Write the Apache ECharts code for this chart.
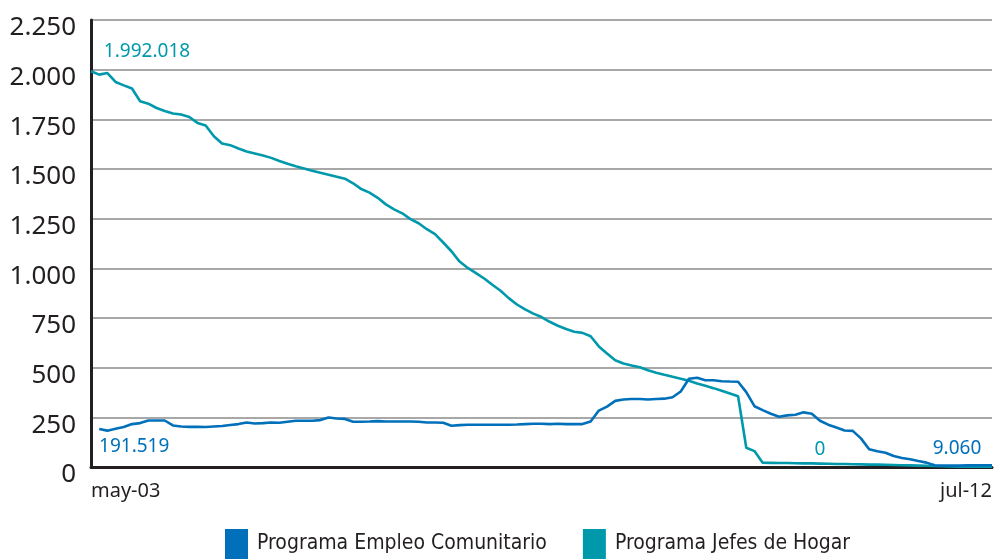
<!DOCTYPE html>
<html>
<head>
<meta charset="utf-8">
<script src="https://cdn.jsdelivr.net/npm/echarts@6/dist/echarts.min.js"></script>
<style>
  html, body { margin: 0; padding: 0; background: #fff; }
  #chart { width: 1000px; height: 560px; }
</style>
</head>
<body>
<div id="chart"></div>
<script>
// meses de may-03 a jul-12
const monthNames = ['ene', 'feb', 'mar', 'abr', 'may', 'jun', 'jul', 'ago', 'sep', 'oct', 'nov', 'dic'];
const months = [];
for (let y = 3, m = 4; y < 12 || (y === 12 && m <= 6); m++) {
  if (m > 11) { m = 0; y++; }
  if (y === 12 && m > 6) break;
  months.push(monthNames[m] + '-' + String(y).padStart(2, '0'));
}

// beneficiarios, en miles
const jefesHogar = [
  1992.018, 1975, 1983, 1938, 1921, 1905, 1841, 1829, 1807, 1792,
  1779, 1774, 1762, 1732, 1719, 1665, 1628, 1620, 1603, 1588,
  1578, 1568, 1556, 1540, 1526, 1514, 1503, 1491, 1481, 1471,
  1461, 1451, 1428, 1399, 1381, 1355, 1322, 1297, 1277, 1248,
  1227, 1197, 1172, 1130, 1086, 1034, 1002, 976, 949, 917,
  887, 850, 818, 793, 772, 755, 731, 711, 695, 681,
  675, 658, 607, 571, 537, 521, 511, 502, 487, 475,
  464, 454, 444, 434, 420, 409, 397, 384, 370, 356,
  97, 80, 22, 21, 20, 20, 19, 18, 18, 17,
  16, 15, 15, 14, 13, 12, 12, 11, 10, 9,
  8, 7, 6, 5, 4, 3, 2, 2, 1, 1, 0
];
const empleoComunitario = [
  null, 191.519, 183, 193, 201, 216, 221, 234, 234, 234,
  209, 204, 202, 202, 201, 204, 206, 211, 216, 224,
  219, 221, 224, 223, 228, 233, 233, 233, 236, 249,
  244, 242, 228, 228, 229, 231, 229, 229, 229, 229,
  228, 224, 224, 223, 208, 211, 213, 213, 213, 213,
  213, 213, 214, 216, 218, 218, 216, 218, 216, 216,
  216, 229, 284, 304, 333, 340, 342, 342, 340, 342,
  344, 351, 380, 444, 449, 437, 437, 432, 430, 429,
  377, 306, 286, 268, 253, 260, 263, 275, 268, 233,
  213, 199, 184, 182, 144, 89, 79, 72, 55, 45,
  39, 30, 22, 9, 7, 7, 7, 8, 8, 9, 9.060
];

const blue = '#0070ba';
const teal = '#0099ac';
const font = "'Noto Sans', sans-serif";

function withDots(n) {
  return String(n).replace(/\B(?=(\d{3})+(?!\d))/g, '.');
}
function fmtMiles(v) {
  return withDots(Math.round(v * 1000));
}

function labelled(arr, color, marks) {
  return arr.map(function (v, i) {
    const mk = marks[i];
    if (!mk) return v;
    return {
      value: v,
      label: {
        show: true,
        position: mk.pos,
        offset: mk.offset,
        color: color,
        fontSize: 19,
        fontFamily: font,
        formatter: function () { return fmtMiles(mk.text); }
      }
    };
  });
}

const last = months.length - 1;
const jefesMarks = {};
jefesMarks[0] = { pos: 'top', offset: [56, -5], text: jefesHogar[0] };
jefesMarks[89] = { pos: 'top', offset: [0, 0], text: jefesHogar[last] };
const empleoMarks = {};
empleoMarks[1] = { pos: 'bottom', offset: [35, 3], text: empleoComunitario[1] };
empleoMarks[last] = { pos: 'top', offset: [-35, -2], text: empleoComunitario[last] };

const chart = echarts.init(document.getElementById('chart'));
const option = {
  animation: false,
  grid: { left: 91, right: 8, top: 20, bottom: 93 },
  legend: {
    bottom: 1,
    left: 225,
    padding: 0,
    itemWidth: 23,
    itemHeight: 30,
    itemGap: 36,
    icon: 'rect',
    textStyle: {
      fontFamily: "'DejaVu Sans Condensed', 'Liberation Sans Narrow', sans-serif",
      fontSize: 21,
      color: '#231f20',
      padding: [0, 0, 0, 4]
    },
    data: ['Programa Empleo Comunitario', 'Programa Jefes de Hogar']
  },
  xAxis: {
    type: 'category',
    boundaryGap: false,
    data: months,
    axisLine: { lineStyle: { color: '#231f20', width: 3 } },
    axisTick: { show: false },
    axisLabel: {
      interval: function (i) { return i === 0 || i === last; },
      alignMinLabel: 'left',
      alignMaxLabel: 'right',
      margin: 14,
      fontSize: 20,
      fontFamily: font,
      color: '#231f20'
    },
    splitLine: { show: false }
  },
  yAxis: {
    type: 'value',
    min: 0,
    max: 2250,
    interval: 250,
    axisLine: { show: true, lineStyle: { color: '#231f20', width: 3 } },
    axisTick: { show: false },
    axisLabel: {
      margin: 15,
      color: '#231f20',
      formatter: function (v) { return '{v|' + withDots(v) + '}'; },
      rich: {
        v: {
          fontSize: 26,
          fontFamily: font,
          color: '#231f20',
          padding: [16, 0, 0, 0]
        }
      }
    },
    splitLine: { lineStyle: { color: '#a8a8a8', width: 2 } }
  },
  series: [
    {
      name: 'Programa Empleo Comunitario',
      type: 'line',
      data: labelled(empleoComunitario, blue, empleoMarks),
      symbol: 'circle',
      symbolSize: 0,
      showSymbol: true,
      showAllSymbol: true,
      color: blue,
      lineStyle: { color: blue, width: 2.6 },
      z: 3
    },
    {
      name: 'Programa Jefes de Hogar',
      type: 'line',
      data: labelled(jefesHogar, teal, jefesMarks),
      symbol: 'circle',
      symbolSize: 0,
      showSymbol: true,
      showAllSymbol: true,
      color: teal,
      lineStyle: { color: teal, width: 2.6 },
      z: 2
    }
  ]
};
chart.setOption(option);
</script>
</body>
</html>
